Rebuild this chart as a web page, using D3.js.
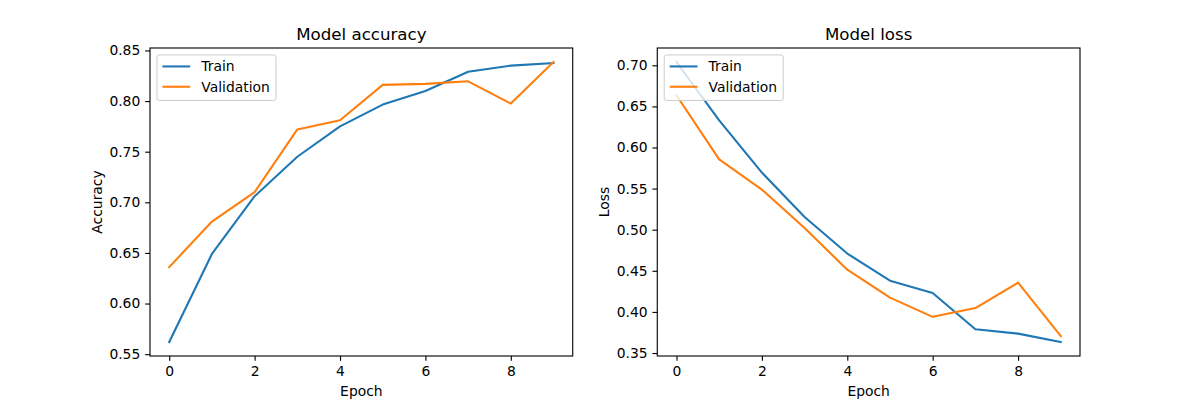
<!DOCTYPE html>
<html>
<head>
<meta charset="utf-8">
<script src="https://cdn.jsdelivr.net/npm/d3@7"></script>
<style>
  body { margin: 0; background: #fff; }
  text { font-family: "DejaVu Sans", sans-serif; fill: #000; }
</style>
</head>
<body>
<div id="chart"></div>
<script>
// training history
const epochs = [0, 1, 2, 3, 4, 5, 6, 7, 8, 9];
const trainAcc = [0.562, 0.649, 0.706, 0.745, 0.775, 0.7965, 0.810, 0.829, 0.835, 0.8376];
const valAcc = [0.636, 0.681, 0.710, 0.772, 0.781, 0.816, 0.817, 0.8195, 0.7975, 0.8386];
const trainLoss = [0.704, 0.633, 0.5695, 0.5155, 0.471, 0.438, 0.423, 0.379, 0.3736, 0.3634];
const valLoss = [0.6635, 0.5856, 0.5488, 0.502, 0.4514, 0.4174, 0.394, 0.4047, 0.4356, 0.3707];
const xTicks = [0, 2, 4, 6, 8];
const accTicks = [0.55, 0.60, 0.65, 0.70, 0.75, 0.80, 0.85];
const lossTicks = [0.35, 0.40, 0.45, 0.50, 0.55, 0.60, 0.65, 0.70];
const seriesNames = ["Train", "Validation"];
const colors = ["#1f77b4", "#ff7f0e"];

const W = 1200, H = 400;
const pt = 100 / 72; // matplotlib points -> px
const fs = 10 * pt;

const svg = d3.select("#chart").append("svg")
    .attr("width", W)
    .attr("height", H);

// matplotlib default subplot geometry
const axW = 0.775 * W / 2.2;
const axTop = 0.12 * H, axBottom = 0.89 * H;

function panel(left, title, ylabel, series, yTicks) {
    const x = d3.scaleLinear()
        .domain([-0.45, 9.45])
        .range([left, left + axW]);

    const all = series.flat();
    const lo = d3.min(all), hi = d3.max(all), m = (hi - lo) * 0.05;
    const y = d3.scaleLinear()
        .domain([lo - m, hi + m])
        .range([axBottom, axTop]);

    const g = svg.append("g");

    const xAxis = g.append("g")
        .attr("transform", "translate(0," + axBottom + ")")
        .call(d3.axisBottom(x).tickValues(xTicks).tickFormat(d3.format("d"))
            .tickSize(3.5 * pt).tickPadding(3.5 * pt));
    const yAxis = g.append("g")
        .attr("transform", "translate(" + left + ",0)")
        .call(d3.axisLeft(y).tickValues(yTicks).tickFormat(d3.format(".2f"))
            .tickSize(3.5 * pt).tickPadding(3.5 * pt));

    [xAxis, yAxis].forEach(a => {
        a.select(".domain").remove();
        a.selectAll(".tick line").attr("stroke", "#000").attr("stroke-width", 0.8 * pt);
        a.selectAll(".tick text")
            .style("font-family", "DejaVu Sans")
            .style("font-size", fs + "px")
            .attr("fill", "#000");
    });

    const line = d3.line()
        .x((d, i) => x(epochs[i]))
        .y(d => y(d));

    series.forEach((s, i) => {
        g.append("path")
            .datum(s)
            .attr("d", line)
            .attr("fill", "none")
            .attr("stroke", colors[i])
            .attr("stroke-width", 1.5 * pt)
            .attr("stroke-linecap", "square")
            .attr("stroke-linejoin", "round");
    });

    // spines
    g.append("rect")
        .attr("x", left)
        .attr("y", axTop)
        .attr("width", axW)
        .attr("height", axBottom - axTop)
        .attr("fill", "none")
        .attr("stroke", "#000")
        .attr("stroke-width", 0.8 * pt);

    g.append("text")
        .attr("x", left + axW / 2)
        .attr("y", axTop - 6 * pt)
        .attr("text-anchor", "middle")
        .style("font-size", 12 * pt + "px")
        .text(title);

    g.append("text")
        .attr("x", left + axW / 2)
        .attr("y", 396)
        .attr("text-anchor", "middle")
        .style("font-size", fs + "px")
        .text("Epoch");

    g.append("text")
        .attr("transform", "translate(" + (left - 48) + "," + ((axTop + axBottom) / 2) + ") rotate(-90)")
        .attr("text-anchor", "middle")
        .style("font-size", fs + "px")
        .text(ylabel);

    // legend, upper left
    const lx = left + 0.5 * fs, ly = axTop + 0.5 * fs;
    const lw = 119, lh = 45.5;
    const leg = g.append("g");
    leg.append("rect")
        .attr("x", lx)
        .attr("y", ly)
        .attr("width", lw)
        .attr("height", lh)
        .attr("rx", 2.5)
        .attr("fill", "#fff")
        .attr("fill-opacity", 0.8)
        .attr("stroke", "#cccccc")
        .attr("stroke-width", 1);
    seriesNames.forEach((name, i) => {
        const cy = ly + 11.5 + i * 20.3;
        leg.append("line")
            .attr("x1", lx + 5.5)
            .attr("x2", lx + 5.5 + 2 * fs)
            .attr("y1", cy)
            .attr("y2", cy)
            .attr("stroke", colors[i])
            .attr("stroke-width", 1.5 * pt);
        leg.append("text")
            .attr("x", lx + 5.5 + 2.8 * fs)
            .attr("y", cy)
            .attr("dy", "0.36em")
            .style("font-size", fs + "px")
            .text(name);
    });
}

panel(150, "Model accuracy", "Accuracy", [trainAcc, valAcc], accTicks);
panel(150 + axW * 1.2, "Model loss", "Loss", [trainLoss, valLoss], lossTicks);
</script>
</body>
</html>
